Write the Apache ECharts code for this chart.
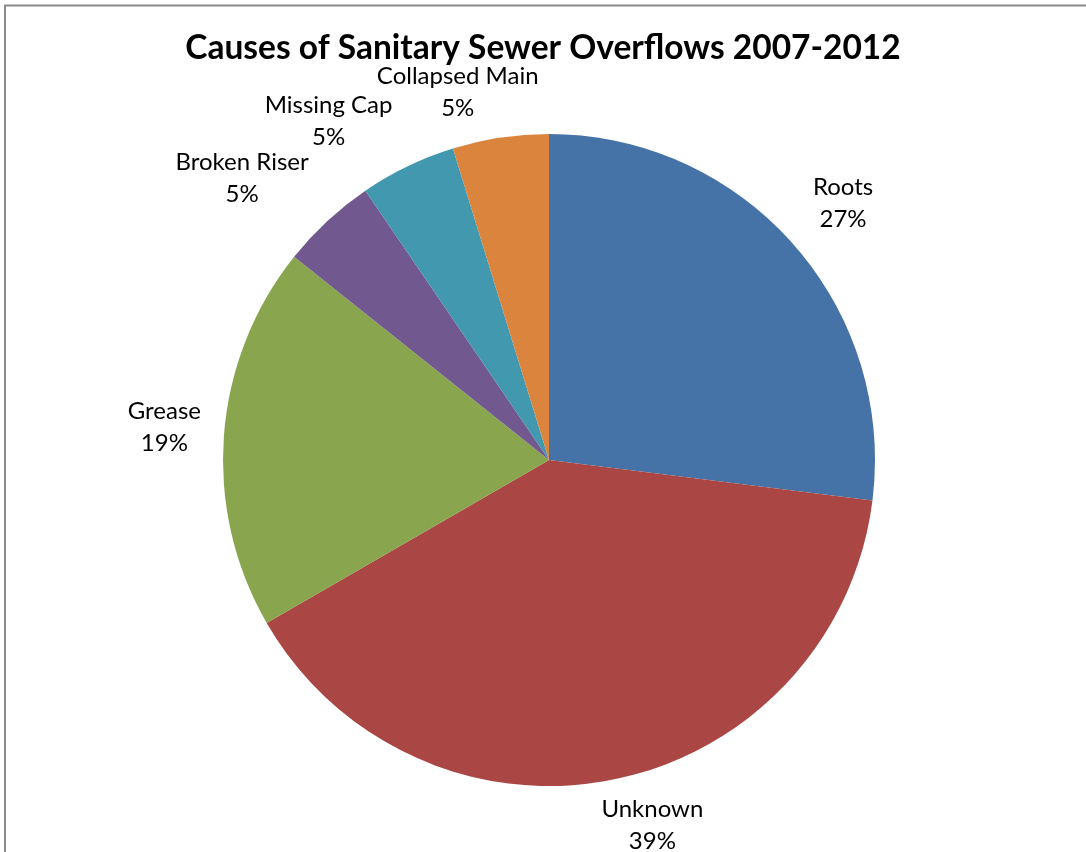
<!DOCTYPE html>
<html>
<head>
<meta charset="utf-8">
<script src="https://cdn.jsdelivr.net/npm/echarts@6/dist/echarts.min.js"></script>
<style>
html,body{margin:0;padding:0;background:#fff;}
#chart{width:1086px;height:852px;}
</style>
</head>
<body>
<div id="chart"></div>
<script>
const titleText = 'Causes of Sanitary Sewer Overflows 2007-2012';
const categories = ['Roots', 'Unknown', 'Grease', 'Broken Riser', 'Missing Cap', 'Collapsed Main'];
const values = [17, 25, 12, 3, 3, 3];
const colors = ['#4572A7', '#AA4643', '#89A54E', '#71588F', '#4198AF', '#DB843D'];

const data = categories.map((c, i) => ({ name: c, value: values[i] }));
const fontFamily = 'Lato, "Open Sans", sans-serif';
const CX = 549, CY = 460, R = 326;
const LABEL_R = 340, SLOPE = 0.33, MARGIN_X = 9;

function clamp1(v) { return Math.max(-1, Math.min(1, v)); }

const chart = echarts.init(document.getElementById('chart'), null, { renderer: 'canvas' });
chart.setOption({
  animation: false,
  backgroundColor: '#ffffff',
  color: colors,
  title: {
    text: titleText,
    left: 'center',
    top: 26,
    textStyle: { fontFamily: fontFamily, fontWeight: 'bold', fontSize: 33.5, color: '#000' }
  },
  graphic: [{
    type: 'rect',
    shape: { x: 5, y: 5.5, width: 1300, height: 1000 },
    style: { fill: 'none', stroke: '#8a8a8a', lineWidth: 2 },
    silent: true
  }],
  series: [
    {
      type: 'pie',
      center: [CX, CY],
      radius: R,
      startAngle: 90,
      clockwise: true,
      silent: true,
      data: data,
      itemStyle: { borderWidth: 0 },
      label: { show: false },
      labelLine: { show: false },
      emphasis: { disabled: true }
    },
    {
      type: 'pie',
      center: [CX, CY],
      radius: [R + 40, R + 80],
      startAngle: 90,
      clockwise: true,
      silent: true,
      percentPrecision: 0,
      avoidLabelOverlap: false,
      data: data,
      itemStyle: { color: 'rgba(0,0,0,0)', borderWidth: 0 },
      label: {
        show: true,
        position: 'inside',
        formatter: '{b}\n{d}%',
        color: '#000',
        fontFamily: fontFamily,
        fontSize: 24,
        lineHeight: 32,
        align: 'center',
        verticalAlign: 'middle',
        textBorderWidth: 0
      },
      labelLine: { show: false },
      labelLayout: function (p) {
        const r = p.labelRect;
        const mx = r.x + r.width / 2, my = r.y + r.height / 2;
        let ux = mx - CX, uy = my - CY;
        const len = Math.hypot(ux, uy) || 1;
        ux /= len; uy /= len;
        const fx = clamp1(ux / SLOPE), fy = clamp1(uy / SLOPE);
        return {
          x: CX + LABEL_R * ux + fx * (r.width / 2 + MARGIN_X),
          y: CY + LABEL_R * uy + fy * (r.height / 2),
          hideOverlap: false,
          moveOverlap: null
        };
      },
      emphasis: { disabled: true }
    }
  ]
});
</script>
</body>
</html>
